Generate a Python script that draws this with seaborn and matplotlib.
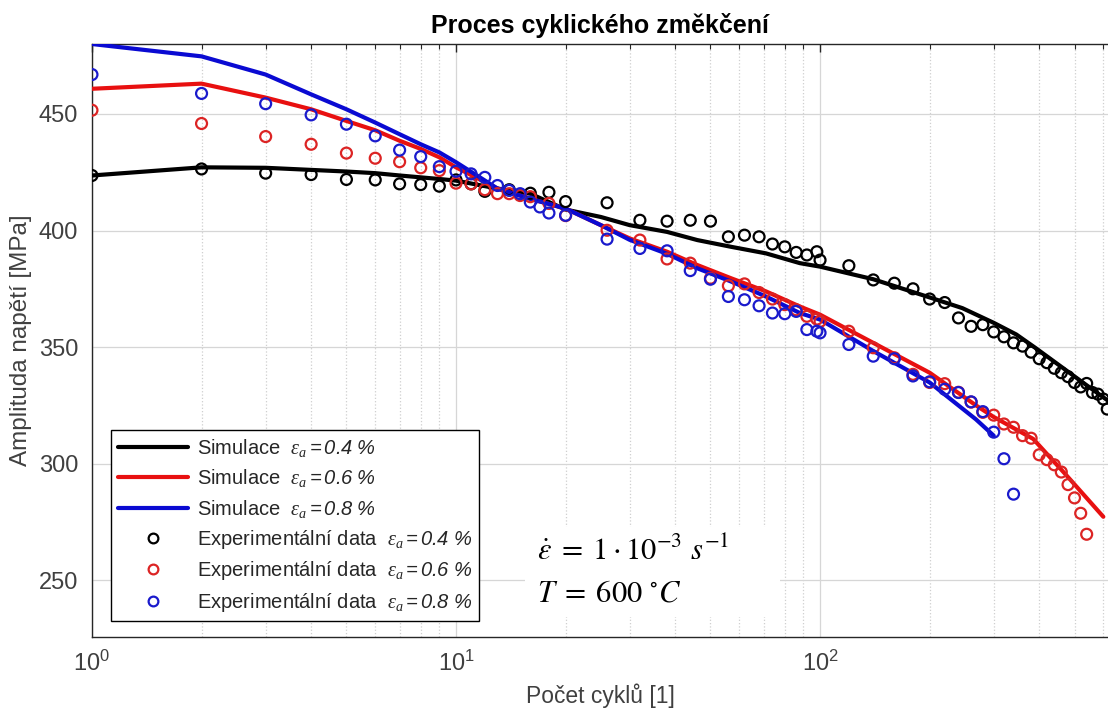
import matplotlib
matplotlib.use("Agg")
import matplotlib.pyplot as plt
import seaborn as sns
from matplotlib.lines import Line2D
from matplotlib.patches import Rectangle
from matplotlib.ticker import MultipleLocator, LogLocator, NullFormatter

# ---- simulation curves (cycles, stress amplitude in MPa) ----
sim_n_04 = [1, 2, 3, 4, 5, 6, 7, 8, 9, 10, 13, 16, 20, 25, 30, 38, 46, 57, 71, 88,
            100, 140, 200, 246, 300, 346, 390, 527, 618]
sim_s_04 = [423.6, 427.1, 426.9, 426.0, 425.3, 424.6, 423.6, 422.8, 422.1, 421.4, 418.0,
            415.8, 409.0, 405.8, 402.3, 399.4, 395.9, 393.0, 390.2, 386.0,
            384.5, 379.1, 371.3, 366.7, 360.4, 355.4, 349.7, 334.8, 327.0]

sim_n_06 = [1, 2, 3, 4, 5, 6, 7, 8, 9, 10, 13, 16, 20, 25, 30, 38, 46, 57, 71, 88,
            100, 140, 200, 268, 300, 385, 475, 600]
sim_s_06 = [460.8, 463.0, 457.0, 452.0, 447.0, 443.0, 438.5, 435.0, 431.4, 427.1, 418.0,
            413.6, 409.4, 402.3, 396.6, 390.9, 385.2, 379.5, 373.9, 367.4,
            363.9, 351.8, 339.0, 325.0, 320.0, 310.6, 295.0, 277.2]

sim_n_08 = [1, 2, 3, 4, 5, 6, 7, 8, 9, 10, 13, 16, 20, 25, 30, 38, 46, 57, 71, 88,
            100, 140, 200, 268, 300]
sim_s_08 = [480.0, 474.7, 466.9, 458.4, 452.0, 446.3, 441.3, 437.0, 433.5, 429.3, 418.0,
            413.6, 409.4, 402.3, 396.0, 390.0, 383.8, 378.1, 371.7, 364.6,
            361.8, 348.3, 334.8, 319.0, 312.0]

# ---- experimental data ----
exp_n_04 = [1, 2, 3, 4, 5, 6, 7, 8, 9, 10, 11, 12, 14, 16, 18, 20, 26, 32, 38, 44, 50,
            56, 62, 68, 74, 80, 86, 92, 98, 100, 120, 140, 160, 180, 200, 220, 240,
            260, 280, 300, 320, 340, 360, 380, 400, 420, 440, 460, 480, 500, 520,
            540, 560, 580, 600, 615]
exp_s_04 = [423.6, 426.4, 424.6, 424.0, 421.9, 421.7, 420.0, 419.7, 419.0, 421.7, 420.0,
            416.8, 417.5, 416.0, 416.4, 412.4, 411.9, 404.4, 404.0, 404.4, 404.0,
            397.3, 398.0, 397.3, 394.2, 393.0, 390.6, 389.5, 390.9, 387.3, 384.9,
            378.8, 377.4, 375.0, 370.6, 369.1, 362.5, 358.9, 359.6, 356.5, 354.4,
            351.8, 350.4, 347.8, 345.0, 343.3, 340.9, 339.0, 337.3, 334.8, 332.9,
            334.4, 330.5, 329.8, 327.7, 323.4]

exp_n_06 = [1, 2, 3, 4, 5, 6, 7, 8, 9, 10, 11, 12, 13, 14, 15, 16, 18, 20, 26, 32, 38,
            44, 50, 56, 62, 68, 74, 80, 86, 92, 98, 100, 120, 140, 160, 180, 200,
            220, 240, 260, 280, 300, 320, 340, 360, 380, 400, 420, 440, 460, 480,
            500, 520, 540]
exp_s_06 = [451.6, 445.9, 440.3, 437.0, 433.2, 431.0, 429.5, 426.9, 425.7, 420.3, 420.0,
            417.5, 415.8, 415.8, 415.0, 414.5, 411.6, 406.4, 400.1, 395.9, 387.8,
            386.0, 379.5, 376.3, 377.1, 373.4, 370.6, 368.2, 366.0, 363.2, 362.0,
            361.0, 356.8, 349.7, 345.4, 338.3, 334.8, 334.3, 330.6, 326.4, 322.0,
            320.8, 317.0, 315.6, 312.0, 310.9, 303.8, 301.7, 299.5, 296.4, 291.0,
            285.3, 278.7, 269.7]

exp_n_08 = [1, 2, 3, 4, 5, 6, 7, 8, 9, 10, 11, 12, 13, 14, 15, 16, 17, 18, 20, 26, 32,
            38, 44, 50, 56, 62, 68, 74, 80, 86, 92, 98, 100, 120, 140, 160, 180, 200,
            220, 240, 260, 280, 300, 320, 340]
exp_s_08 = [466.9, 458.8, 454.4, 449.6, 445.6, 440.6, 434.5, 431.7, 427.4, 425.4, 424.3,
            422.8, 419.3, 417.2, 415.8, 412.2, 410.1, 407.5, 406.5, 396.3, 392.3,
            391.3, 382.8, 379.1, 371.7, 370.3, 367.7, 364.6, 364.3, 365.3, 357.5,
            356.8, 356.1, 351.1, 346.1, 345.0, 337.6, 335.1, 331.9, 330.5, 326.5,
            322.3, 313.5, 302.1, 286.9]

strain_labels = ["0.4", "0.6", "0.8"]
line_colors = ["#000000", "#e81010", "#0a0ad2"]
marker_colors = ["#000000", "#dc2424", "#1a1acc"]

sns.set_theme(style="whitegrid")
plt.rcParams["font.family"] = ["Liberation Sans", "DejaVu Sans"]
plt.rcParams["mathtext.fontset"] = "custom"
plt.rcParams["mathtext.rm"] = "Liberation Sans"
plt.rcParams["mathtext.it"] = "Liberation Serif:italic"
plt.rcParams["mathtext.sf"] = "Liberation Sans:italic"

fig = plt.figure(figsize=(11.08, 7.18), dpi=100)
ax = fig.add_axes([0.0830, 0.1124, 0.917, 0.8263])
ax.set_xscale("log")

sims = [(sim_n_04, sim_s_04), (sim_n_06, sim_s_06), (sim_n_08, sim_s_08)]
exps = [(exp_n_04, exp_s_04), (exp_n_06, exp_s_06), (exp_n_08, exp_s_08)]

for (n, s), c in zip(sims, line_colors):
    sns.lineplot(x=n, y=s, ax=ax, color=c, linewidth=3.0, sort=False,
                 estimator=None, legend=False, zorder=3)

for (n, s), c in zip(exps, marker_colors):
    sns.scatterplot(x=n, y=s, ax=ax, marker="o", s=62, color=c,
                    facecolor="none", edgecolor=c, linewidth=1.6,
                    legend=False, zorder=4)

ax.set_xlim(1, 618)
ax.set_ylim(225.5, 480)
ax.yaxis.set_major_locator(MultipleLocator(50))
ax.xaxis.set_major_locator(LogLocator(base=10, numticks=10))
ax.xaxis.set_minor_locator(LogLocator(base=10, subs=range(2, 10), numticks=20))
ax.xaxis.set_minor_formatter(NullFormatter())

ax.grid(which="major", color="#d6d6d6", linewidth=0.9, linestyle="-")
ax.grid(which="minor", axis="x", color="#cfcfcf", linewidth=0.9, linestyle=":")
ax.yaxis.grid(False, which="minor")
ax.set_axisbelow(True)

for side in ["left", "bottom", "top"]:
    ax.spines[side].set_color("#262626")
    ax.spines[side].set_linewidth(1.0)
ax.spines["right"].set_visible(False)

ax.tick_params(which="both", direction="in", top=True, right=False,
               color="#262626", labelcolor="#404040", labelsize=17)
ax.tick_params(which="major", length=6, width=1.0, pad=10)
ax.tick_params(which="minor", length=3.5, width=0.8)

ax.set_xlabel("Počet cyklů [1]", fontsize=16.5, color="#404040", labelpad=5)
ax.set_ylabel("Amplituda napětí [MPa]", fontsize=17.5, color="#404040", labelpad=5)
ax.set_title("Proces cyklického změkčení", fontsize=18, fontweight="bold",
             color="black", pad=8)

# legend
handles = []
for lab, c in zip(strain_labels, line_colors):
    handles.append(Line2D([], [], color=c, linewidth=3.0,
                          label=r"Simulace  $\varepsilon_a\mathsf{=%s\ \%%}$" % lab))
for lab, c in zip(strain_labels, marker_colors):
    handles.append(Line2D([], [], linestyle="none", marker="o", markersize=7,
                          markerfacecolor="none", markeredgecolor=c,
                          markeredgewidth=1.6,
                          label=r"Experimentální data  $\varepsilon_a\mathsf{=%s\ \%%}$" % lab))
leg = ax.legend(handles=handles, loc="lower left", bbox_to_anchor=(0.0187, 0.0275),
                borderaxespad=0, fontsize=14.5, frameon=True, fancybox=False,
                edgecolor="black", framealpha=1, handlelength=3.5,
                labelspacing=0.42, handletextpad=0.4, borderpad=0.35)
leg.get_frame().set_linewidth(1.0)
leg.set_zorder(6)

# loading conditions
ax.add_patch(Rectangle((0.426, 0.034), 0.251, 0.152, transform=ax.transAxes,
                       facecolor="white", edgecolor="none", zorder=1.5))
ax.text(0.438, 0.130, r"$\dot{\varepsilon}\;=\;1 \cdot 10^{-3}\ s^{-1}$",
        transform=ax.transAxes, fontsize=22, math_fontfamily="stix",
        ha="left", va="baseline", color="black", zorder=6)
ax.text(0.438, 0.060, r"$T\;=\;600\ ^{\circ}C$",
        transform=ax.transAxes, fontsize=22, math_fontfamily="stix",
        ha="left", va="baseline", color="black", zorder=6)

fig.savefig("out.png", dpi=100, facecolor="white")
